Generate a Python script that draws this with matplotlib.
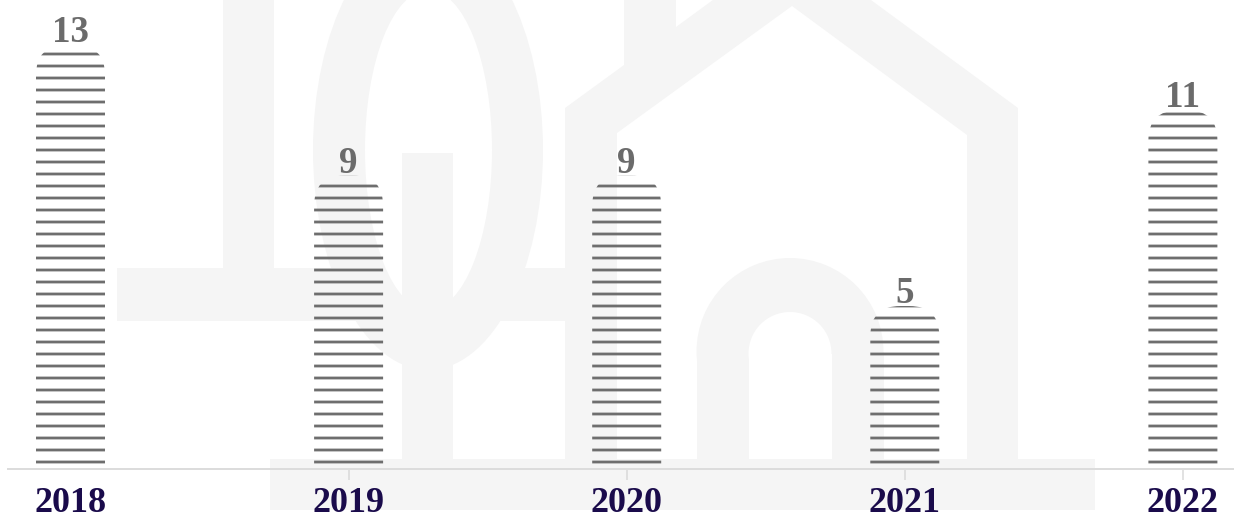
import matplotlib
matplotlib.use("Agg")
import matplotlib.pyplot as plt
from matplotlib.patches import FancyBboxPatch, Rectangle, Ellipse, Polygon

# ---- data ----
years = ["2018", "2019", "2020", "2021", "2022"]
values = [13, 9, 9, 5, 11]

# ---- style ----
W, H, DPI = 1234, 521, 72
STRIPE = "#6e6e6e"
LABEL_GRAY = "#6b6b6b"
NAVY = "#1a0b4b"
WM = "#f5f5f5"
SERIF = ["Liberation Serif", "DejaVu Serif"]

plt.rcParams["hatch.linewidth"] = 2.8

fig = plt.figure(figsize=(W / DPI, H / DPI), dpi=DPI)
fig.patch.set_facecolor("white")

# ---- faint background watermark (decorative logo) ----
bg = fig.add_axes([0, 0, 1, 1], zorder=0)
bg.set_xlim(0, W)
bg.set_ylim(H, 0)
bg.axis("off")
bg.add_patch(Rectangle((223, -5), 51, 326, color=WM, lw=0))
bg.add_patch(Rectangle((117, 268), 448, 53, color=WM, lw=0))
bg.add_patch(Ellipse((428, 150), 230, 440, color=WM, lw=0))
bg.add_patch(Ellipse((428.5, 150), 127, 320, color="white", lw=0))
bg.add_patch(Rectangle((402, 153), 51, 306, color=WM, lw=0))
house = [(565, 459), (565, 108), (624, 65), (624, -5), (676, -5), (676, 27),
         (792, -58), (1018, 108), (1018, 459), (967, 459), (967, 135),
         (792, 6), (617, 133), (617, 459)]
bg.add_patch(Polygon(house, closed=True, color=WM, lw=0))
bg.add_patch(Ellipse((790, 351.5), 187, 187, color=WM, lw=0))
bg.add_patch(Rectangle((696.5, 351.5), 187, 107.5, color=WM, lw=0))
bg.add_patch(Ellipse((790, 353.5), 83, 83, color="white", lw=0))
bg.add_patch(Rectangle((748.5, 353.5), 83, 105.5, color="white", lw=0))
bg.add_patch(Rectangle((270, 459), 825, 51, color=WM, lw=0))

# ---- main chart ----
left_px, base_px = 8, 469
ax = fig.add_axes([left_px / W, (H - base_px) / H, 1 - left_px / W, base_px / H], zorder=1)
ax.set_facecolor("none")

step_px = 278.1
px_per_unit = 32.6
x0 = -(70.5 - left_px) / step_px
x1 = (len(years) - 1) + (W - (70.5 + step_px * (len(years) - 1))) / step_px
ax.set_xlim(x0, x1)
ax.set_ylim(0, base_px / px_per_unit)

bar_w = 69 / step_px
radius = 30 / step_px
aspect = step_px / px_per_unit

for i, v in enumerate(values):
    p = FancyBboxPatch((i - bar_w / 2, -3), bar_w, v + 3,
                       boxstyle=f"round,pad=0,rounding_size={radius}",
                       mutation_aspect=aspect,
                       facecolor="none", edgecolor=STRIPE, linewidth=0,
                       hatch="-")
    ax.add_patch(p)
    ax.annotate(str(v), (i, v), xytext=(0, 3), textcoords="offset points",
                ha="center", va="baseline", fontsize=37, fontweight="bold",
                color=LABEL_GRAY, family=SERIF)

for s in ["top", "right", "left"]:
    ax.spines[s].set_visible(False)
ax.spines["bottom"].set_color("#dcdcdc")
ax.spines["bottom"].set_linewidth(2)
ax.set_yticks([])
ax.set_xticks(range(len(years)))
ax.set_xticklabels(years, fontsize=36, fontweight="bold", color=NAVY, family=SERIF)
ax.tick_params(axis="x", length=11, width=1.5, color="#d9d9d9", pad=7)
ax.xaxis.get_major_ticks()[0].tick1line.set_visible(False)

fig.savefig("out.png", dpi=DPI, facecolor="white")
